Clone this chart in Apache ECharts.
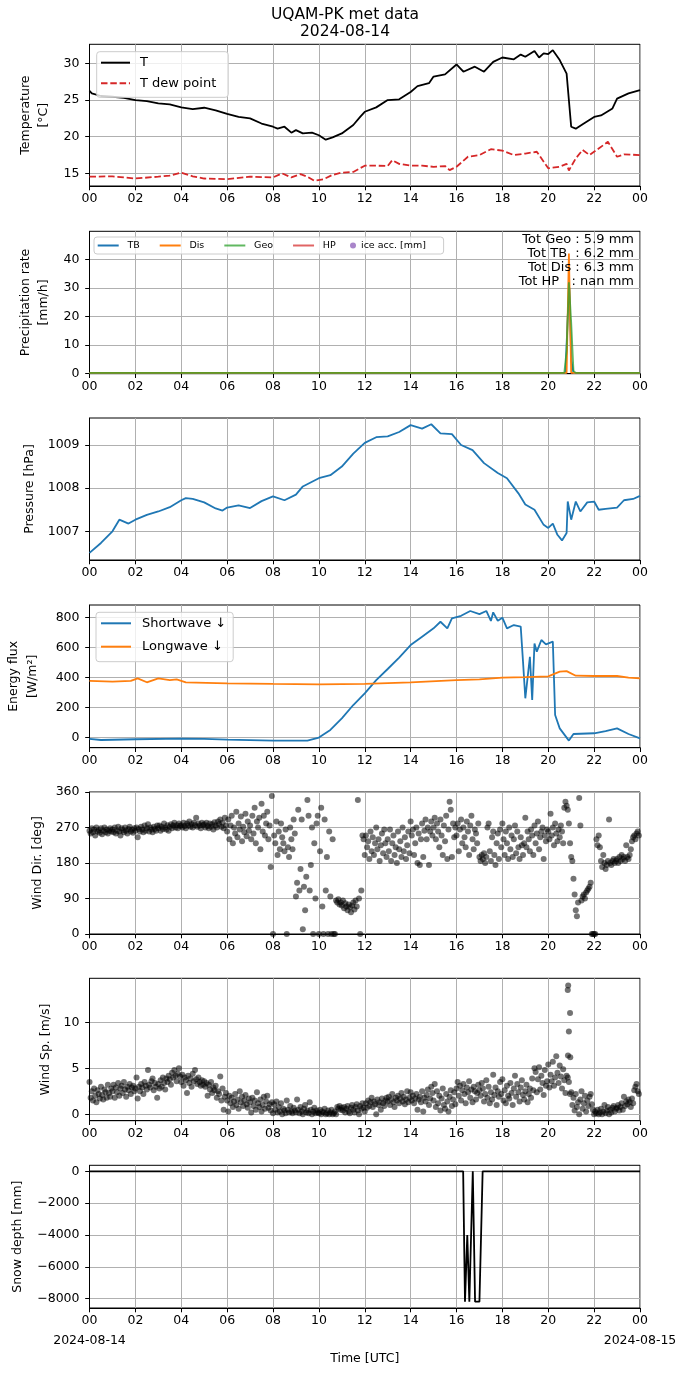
<!DOCTYPE html>
<html><head><meta charset="utf-8">
<script src="https://cdn.jsdelivr.net/npm/echarts@6.0.0/dist/echarts.min.js"></script>
<style>html,body{margin:0;padding:0;background:#fff}#c{width:690px;height:1377px}</style>
</head><body><div id="c"></div>
<script>
const FONT = 'DejaVu Sans';
const xTickLabels = ['00','02','04','06','08','10','12','14','16','18','20','22','00'];
const xDateLabels = [[0, '2024-08-14'], [24, '2024-08-15']];
const titleText = 'UQAM-PK met data\n2024-08-14';
const precipTotals = ['Tot Geo : 5.9 mm', 'Tot TB  : 6.2 mm', 'Tot Dis : 6.3 mm', 'Tot HP   : nan mm'];

// y tick values per panel
const tempTicks = [15, 20, 25, 30];
const precipTicks = [0, 10, 20, 30, 40];
const pressureTicks = [1007, 1008, 1009];
const energyTicks = [0, 200, 400, 600, 800];
const windDirTicks = [0, 90, 180, 270, 360];
const windSpTicks = [0, 5, 10];
const snowTicks = [-8000, -6000, -4000, -2000, 0];

// Temperature [°C] (hour, value)
const tempT = [[0,26.27],[0.1,25.9],[0.5,25.55],[1,25.45],[1.5,25.3],[2,25.0],[2.5,24.86],[3,24.55],[3.5,24.4],[4,24.0],[4.5,23.77],[5,23.95],[5.5,23.6],[6,23.1],[6.5,22.7],[7,22.5],[7.5,21.8],[8,21.36],[8.2,21.1],[8.5,21.36],[8.8,20.55],[9,20.9],[9.3,20.45],[9.7,20.55],[10,20.2],[10.3,19.6],[10.6,19.9],[11,20.45],[11.5,21.6],[11.8,22.7],[12,23.4],[12.5,24.0],[13,25.0],[13.5,25.1],[14,26.1],[14.3,26.9],[14.8,27.3],[15,28.2],[15.5,28.5],[16,29.85],[16.3,28.86],[16.8,29.55],[17.2,28.86],[17.6,30.2],[18,30.8],[18.5,30.55],[18.8,31.2],[19,30.9],[19.4,31.7],[19.6,30.8],[19.8,31.36],[20,31.27],[20.2,31.8],[20.5,30.45],[20.8,28.6],[21.0,21.36],[21.2,21.1],[21.5,21.7],[22,22.7],[22.3,22.9],[22.8,23.86],[23,25.2],[23.5,25.9],[24,26.36]];
const tempDew = [[0,14.55],[1,14.6],[2,14.3],[3,14.55],[3.5,14.7],[4,15.1],[4.5,14.6],[5,14.3],[6,14.2],[7,14.55],[8,14.45],[8.4,15.0],[8.8,14.45],[9.2,14.9],[9.5,14.55],[9.8,14.0],[10.2,14.2],[10.6,14.8],[11,15.1],[11.5,15.2],[12,16.05],[12.5,16.05],[13,16.0],[13.2,16.8],[13.5,16.3],[14,16.05],[14.5,16.05],[15,15.9],[15.5,16.0],[15.7,15.45],[16,15.9],[16.5,17.27],[17,17.5],[17.5,18.3],[18,18.1],[18.5,17.5],[19,17.7],[19.5,17.95],[20,15.7],[20.5,15.9],[20.8,16.3],[20.9,15.4],[21.2,17.05],[21.5,18.2],[21.8,17.5],[22.2,18.4],[22.6,19.3],[23,17.27],[23.3,17.6],[24,17.5]];

// Precipitation rate [mm/h]
const precipTB = [[0,0.2],[20.75,0.2],[20.85,20],[20.92,30],[21.0,5],[21.1,0.2],[24,0.2]];
const precipDis = [[0,0.3],[20.8,0.3],[20.9,42],[21.0,0.3],[24,0.3]];
const precipGeo = [[0,0.3],[20.7,0.3],[20.8,8],[20.9,32],[21.0,18],[21.1,1],[21.2,0.3],[24,0.3]];
const precipHP = [];
const iceAcc = [];

// Pressure [hPa]
const pressure = [[0,1006.5],[0.5,1006.73],[1,1007.0],[1.3,1007.27],[1.7,1007.18],[2,1007.27],[2.5,1007.38],[3,1007.46],[3.5,1007.56],[4,1007.72],[4.2,1007.77],[4.5,1007.75],[5,1007.67],[5.5,1007.53],[5.8,1007.48],[6,1007.55],[6.5,1007.6],[7,1007.54],[7.5,1007.7],[8,1007.81],[8.5,1007.72],[9,1007.85],[9.3,1008.04],[10,1008.23],[10.5,1008.3],[11,1008.5],[11.5,1008.8],[12,1009.05],[12.5,1009.18],[13,1009.2],[13.5,1009.3],[14,1009.46],[14.5,1009.38],[14.9,1009.48],[15.3,1009.27],[15.8,1009.25],[16.2,1009.0],[16.7,1008.88],[17.2,1008.58],[17.8,1008.35],[18.2,1008.23],[18.7,1007.88],[19,1007.62],[19.4,1007.5],[19.8,1007.15],[20.0,1007.08],[20.2,1007.18],[20.4,1006.92],[20.6,1006.79],[20.8,1006.96],[20.85,1007.69],[21.0,1007.27],[21.2,1007.69],[21.4,1007.46],[21.7,1007.67],[22,1007.69],[22.2,1007.5],[22.5,1007.52],[23,1007.55],[23.3,1007.72],[23.7,1007.75],[24,1007.82]];

// Energy flux [W/m2]
const shortwave = [[0,-11],[0.5,-18],[2,-13],[4,-9],[5,-11],[6,-16],[8,-22],[9.5,-22],[10,-2],[10.5,49],[11,127],[11.5,216],[12,294],[12.5,383],[13,457],[13.5,533],[14,617],[14.5,673],[15,729],[15.3,773],[15.6,729],[15.8,796],[16.2,813],[16.6,845],[17,824],[17.3,845],[17.5,778],[17.6,836],[17.8,780],[18,800],[18.2,729],[18.5,751],[18.8,740],[18.9,506],[19.0,261],[19.2,539],[19.3,250],[19.4,628],[19.5,573],[19.7,651],[19.9,622],[20.2,640],[20.3,149],[20.5,60],[20.9,-22],[21.1,22],[22,27],[22.5,42],[23,60],[23.5,22],[24,-7]];
const longwave = [[0,377],[1,372],[1.8,377],[2.1,394],[2.5,368],[3,394],[3.5,383],[3.8,388],[4.2,368],[6,361],[8,357],[10,354],[12,357],[14,368],[16,383],[17,388],[18,399],[19,403],[20,408],[20.5,439],[20.8,443],[21.2,412],[22,410],[23,410],[23.5,399],[24,394]];

// Wind direction [deg], 20 samples per hour, hours 00..23
const windDirHourly = [
[262,255,268,258,265,250,270,260,263,257,268,253,262,270,258,265,255,262,268,260],
[265,258,270,255,262,272,260,250,268,263,258,270,262,255,266,272,260,264,257,268],
[262,270,245,266,260,272,265,258,275,262,268,278,260,270,265,258,272,266,262,275],
[268,275,262,272,266,280,270,265,276,262,272,278,268,275,282,270,276,268,280,274],
[276,270,282,274,268,280,275,285,272,278,270,282,276,295,272,280,275,268,282,276],
[278,270,282,274,268,280,272,278,265,283,275,270,285,278,290,272,282,268,295,275],
[260,290,240,275,300,230,270,255,310,245,280,265,298,235,272,258,305,248,285,262],
[275,240,300,255,320,230,285,270,295,215,330,260,300,250,280,310,240,275,170,350],
[0,250,230,285,200,260,215,280,245,230,210,265,0,220,195,270,240,215,290,255],
[95,130,315,110,165,290,12,120,60,145,340,300,110,175,270,0,230,90,280,300],
[0,210,320,70,0,290,110,195,0,260,95,0,240,0,0,85,80,88,75,80],
[72,85,65,78,70,60,75,68,55,72,80,62,85,70,340,90,0,110,250,240],
[200,250,220,235,190,260,210,245,200,230,270,215,240,185,225,255,205,265,230,195],
[240,210,265,185,230,250,200,220,180,260,215,235,195,270,210,245,190,225,260,205],
[285,250,265,200,230,270,180,255,175,240,280,195,262,290,240,270,175,260,285,250],
[270,295,240,280,260,220,290,250,200,275,235,300,190,265,335,315,195,280,245,270],
[250,280,210,265,290,230,270,245,220,285,260,200,275,300,240,215,265,255,230,280],
[195,185,200,190,205,180,195,270,280,210,185,245,260,200,175,230,255,190,265,220],
[280,240,200,260,230,190,270,215,250,195,240,275,205,260,220,190,245,225,200,230],
[295,220,260,240,210,265,250,200,275,230,255,285,215,245,260,270,190,250,235,265],
[260,240,305,250,270,225,280,255,235,265,245,275,260,230,320,335,325,315,280,230],
[195,185,140,100,60,45,80,345,275,85,95,100,90,105,110,115,120,130,0,0],
[0,0,240,225,250,220,185,170,200,180,165,175,185,290,180,175,185,190,180,185],
[190,180,195,185,200,190,195,185,225,195,190,200,215,235,245,250,240,255,260,250]
];

// Wind speed [m/s], 20 samples per hour, hours 00..23
const windSpHourly = [
[3.5,1.8,2.5,1.5,2.8,2.0,1.3,2.6,2.2,1.7,3.0,2.1,1.6,2.7,2.4,1.8,3.2,2.3,1.9,2.8],
[2.5,3.2,1.8,2.9,2.4,3.4,2.0,2.8,3.1,2.3,3.5,2.7,1.9,3.0,2.6,3.3,2.2,2.9,3.1,2.5],
[2.8,4.0,1.7,3.0,2.5,3.3,2.9,2.2,3.5,3.1,2.7,4.8,3.2,2.9,3.6,3.9,2.6,3.4,3.0,1.8],
[3.3,2.8,3.7,3.0,4.0,3.4,2.7,3.9,3.5,4.2,3.8,3.2,4.5,4.0,4.8,4.2,3.6,4.4,5.0,4.1],
[3.5,4.3,3.1,4.0,3.7,2.3,4.2,3.4,3.9,3.0,4.4,3.6,4.8,3.8,3.3,4.0,3.5,3.1,3.7,3.2],
[3.6,3.0,3.4,2.0,3.2,2.7,3.5,2.3,2.9,2.6,3.1,1.8,2.5,2.2,4.1,1.5,2.8,0.5,1.9,2.3],
[1.5,0.3,2.0,1.2,1.8,0.8,1.4,2.2,1.0,1.6,0.6,2.5,1.3,1.9,0.9,1.5,2.1,1.1,0.7,1.7],
[1.3,0.2,1.8,0.9,1.5,0.5,2.4,1.2,0.8,1.6,0.3,1.0,1.9,0.6,1.4,2.0,0.7,1.1,0.4,1.3],
[0.1,1.1,0.5,1.4,0.2,0.8,0.3,1.2,0.0,0.6,0.4,0.1,1.5,0.5,0.2,0.9,0.3,0.1,0.7,0.4],
[0.2,1.6,0.5,0.1,0.8,0.3,0.0,0.6,1.0,0.2,0.4,0.1,1.3,0.5,0.0,0.3,0.7,0.1,0.4,0.2],
[0.1,0.5,0.0,0.3,0.2,0.6,0.0,0.1,0.4,0.0,0.2,0.5,0.0,0.1,0.3,0.0,0.8,0.6,0.9,0.5],
[0.7,0.4,0.8,0.2,0.6,0.9,0.3,0.1,0.7,1.0,0.5,0.2,0.8,1.1,0.4,0.0,0.9,0.6,1.2,0.7],
[0.3,1.2,0.7,1.5,0.9,1.3,1.8,0.8,1.4,1.1,0.0,1.6,1.0,1.3,0.5,1.7,1.2,0.9,1.5,1.8],
[1.4,1.9,1.0,1.6,2.2,1.3,0.8,1.8,1.5,2.0,1.2,1.7,2.3,1.4,1.9,1.1,1.6,2.5,1.3,1.8],
[2.4,1.5,2.0,1.2,1.7,2.2,0.5,1.6,1.9,1.3,2.5,0.3,1.8,1.4,2.1,2.7,1.0,1.7,3.0,2.3],
[1.5,3.3,0.8,2.5,1.2,2.0,0.4,1.7,2.8,1.0,0.6,2.2,1.4,0.3,1.9,2.6,0.9,1.6,2.4,1.1],
[2.8,3.5,2.0,3.1,1.5,2.6,3.3,2.2,1.2,2.9,2.4,3.6,1.8,2.7,1.3,3.0,2.5,1.6,2.3,3.2],
[2.6,2.0,3.4,2.8,1.4,2.2,3.7,1.8,3.0,1.2,2.4,1.6,4.3,2.1,2.9,1.0,2.5,1.9,3.5,2.2],
[3.8,1.5,2.6,1.2,3.1,2.0,1.7,3.4,2.3,1.0,2.8,4.2,1.9,3.3,2.4,1.4,2.9,3.7,2.1,1.6],
[2.5,3.2,1.3,2.2,2.8,1.8,3.9,2.6,5.0,4.6,2.4,3.8,5.1,2.7,4.2,3.4,2.1,4.8,3.1,3.6],
[5.4,2.9,4.3,3.6,5.7,3.1,4.0,6.3,4.5,3.4,5.3,4.1,2.8,4.9,3.7,2.3,4.2,4.0,3.5,2.2],
[2.4,1.0,1.8,0.4,2.2,0.8,1.3,0.0,1.6,2.5,0.6,1.2,2.0,0.3,1.5,0.9,1.9,2.2,1.1,0.5],
[0.0,0.3,0.1,0.5,0.0,0.2,0.6,0.0,0.3,1.0,0.1,0.4,0.8,0.0,0.5,0.2,0.7,0.9,0.3,0.6],
[0.7,1.0,0.4,0.8,1.2,0.5,1.9,0.9,1.4,1.1,1.6,1.3,0.8,1.7,1.2,2.6,3.0,3.3,2.5,2.2]
];
const windSpOutliers = [[20.87,14.0],[20.85,13.5],[20.95,11.0],[20.9,9.0],[20.86,6.4],[20.96,6.2]];

// Snow depth [mm]
const snowDepth = [[0,0],[16.29,0],[16.37,-8190],[16.47,-4000],[16.56,-8190],[16.71,0],[16.81,-8190],[17.0,-8190],[17.14,0],[24,0]];

// ---------- build ----------
function expandHourly(rows) {
  const pts = [];
  rows.forEach((vals, h) => vals.forEach((v, i) => pts.push([h + i / vals.length, v])));
  return pts;
}
const windDirPts = expandHourly(windDirHourly);
const windSpPts = expandHourly(windSpHourly).concat(windSpOutliers);

const gridTops = [44.3, 231.3, 418, 605, 792, 978.3, 1165.3];
const gridHeights = [141.7, 142.4, 142, 142.7, 142, 142.4, 142.7];
const grids = gridTops.map((t, i) => ({left: 89.5, right: 50, top: t, height: gridHeights[i], show: true,
  borderColor: '#000', borderWidth: 1, backgroundColor: 'transparent', containLabel: false, outerBoundsMode: 'none'}));

const minus = v => String(v).replace('-', '\u2212');
const axisLine = {show: true, onZero: false, lineStyle: {color: '#000', width: 1}};
const tickStyle = {color: '#000', width: 1};
const splitLine = {show: true, lineStyle: {color: '#b0b0b0', width: 1}};
const labelBase = {color: '#000', fontFamily: FONT, fontSize: 12.5};

const xAxes = gridTops.map((t, i) => {
  const ax = {
    type: 'value', gridIndex: i, min: 0, max: 24, interval: 2,
    axisLine, axisTick: {show: true, length: 4.3, lineStyle: tickStyle}, splitLine,
    axisLabel: Object.assign({}, labelBase, {margin: 6, lineHeight: 14, showMinLabel: true, showMaxLabel: true,
      formatter: v => xTickLabels[Math.round(v / 2)]})
  };
  if (i === 6) {
    ax.name = 'Time [UTC]'; ax.nameLocation = 'middle'; ax.nameGap = 44;
    ax.nameTextStyle = {color: '#000', fontFamily: FONT, fontSize: 12.5};
  }
  return ax;
});

const yDefs = [
  {name: 'Temperature\n[°C]', min: 13.28, max: 32.6, ticks: tempTicks, gap: 25.6, lh: 18},
  {name: 'Precipitation rate\n[mm/h]', min: 0, max: 49.8, ticks: precipTicks, gap: 26, lh: 18},
  {name: 'Pressure [hPa]', min: 1006.336, max: 1009.625, ticks: pressureTicks, gap: 53, lh: 14},
  {name: 'Energy flux\n[W/m²]', min: -69.5, max: 885, ticks: energyTicks, gap: 47, lh: 19},
  {name: 'Wind Dir. [deg]', min: 0, max: 360, ticks: windDirTicks, gap: 43, lh: 14},
  {name: 'Wind Sp. [m/s]', min: -0.7, max: 14.78, ticks: windSpTicks, gap: 34, lh: 14},
  {name: 'Snow depth [mm]', min: -8585, max: 377, ticks: snowTicks, gap: 65, lh: 14}
];
const yAxes = yDefs.map((d, i) => {
  const step = d.ticks[1] - d.ticks[0];
  return {
    type: 'value', gridIndex: i, min: d.min, max: d.max, minInterval: step, maxInterval: step,
    name: d.name, nameLocation: 'middle', nameGap: d.gap, nameRotate: 90,
    nameTextStyle: {color: '#000', fontFamily: FONT, fontSize: 12.5, lineHeight: d.lh},
    axisLine,
    axisTick: {show: true, length: 4.3, lineStyle: tickStyle, customValues: d.ticks},
    splitLine,
    axisLabel: Object.assign({}, labelBase, {margin: 10, customValues: d.ticks,
      formatter: v => (d.ticks.some(t => Math.abs(t - v) < 1e-6) ? minus(v) : '')})
  };
});

const lineS = (name, data, idx, color, extra) => Object.assign({
  type: 'line', name, data, xAxisIndex: idx, yAxisIndex: idx, symbol: 'none', showSymbol: false,
  lineStyle: {color, width: 1.8}, itemStyle: {color}, animation: false
}, extra || {});

const series = [
  lineS('T', tempT, 0, '#000000'),
  lineS('T dew point', tempDew, 0, '#d62728', {lineStyle: {color: '#d62728', width: 1.8, type: [6.5, 2.8]}}),
  lineS('TB', precipTB, 1, '#1f77b4'),
  lineS('Dis', precipDis, 1, '#ff7f0e'),
  lineS('Geo', precipGeo, 1, '#5cb85c', {lineStyle: {color: '#2ca02c', width: 1.8, opacity: 0.75}}),
  lineS('HP', precipHP, 1, '#e06464'),
  {type: 'scatter', name: 'ice acc. [mm]', data: iceAcc, xAxisIndex: 1, yAxisIndex: 1, symbolSize: 5, itemStyle: {color: '#9467bd'}, animation: false},
  lineS('', pressure, 2, '#1f77b4'),
  lineS('Shortwave ↓', shortwave, 3, '#1f77b4'),
  lineS('Longwave ↓', longwave, 3, '#ff7f0e'),
  {type: 'scatter', data: windDirPts, xAxisIndex: 4, yAxisIndex: 4, symbolSize: 6, itemStyle: {color: '#000', opacity: 0.55}, animation: false, silent: true},
  {type: 'scatter', data: windSpPts, xAxisIndex: 5, yAxisIndex: 5, symbolSize: 6, itemStyle: {color: '#000', opacity: 0.55}, animation: false, silent: true},
  lineS('', snowDepth, 6, '#000000')
];

const legendBox = {backgroundColor: 'rgba(255,255,255,0.8)', borderColor: '#cccccc', borderWidth: 1, borderRadius: 3};
const noSym = {opacity: 0};
const legends = [
  Object.assign({data: ['T', 'T dew point'], orient: 'vertical', left: 96.7, top: 51.7, padding: [4, 12, 7, 3.3],
    itemWidth: 29, itemHeight: 14, itemGap: 6.6, selectedMode: false, itemStyle: noSym,
    textStyle: {color: '#000', fontFamily: FONT, fontSize: 13, lineHeight: 14, padding: [0, 0, 0, 5]}}, legendBox),
  Object.assign({data: ['TB', 'Dis', 'Geo', 'HP'], orient: 'horizontal', left: 94, top: 237, padding: [3.5, 108, 3.5, 2.7],
    itemWidth: 21, itemHeight: 9, itemGap: 19, selectedMode: false, itemStyle: noSym,
    textStyle: {color: '#000', fontFamily: FONT, fontSize: 9.5, lineHeight: 10, padding: [0, 0, 0, 3.7]}}, legendBox),
  {data: ['ice acc. [mm]'], orient: 'horizontal', left: 350, top: 237, padding: [3.5, 0, 3.5, 0],
    itemWidth: 6, itemHeight: 6, selectedMode: false, z: 5,
    textStyle: {color: '#000', fontFamily: FONT, fontSize: 9.5, lineHeight: 10, padding: [0, 0, 0, 0]}},
  Object.assign({data: ['Shortwave ↓', 'Longwave ↓'], orient: 'vertical', left: 96, top: 612.3, padding: [4, 7, 8, 4],
    itemWidth: 30, itemHeight: 14, itemGap: 9.4, selectedMode: false, itemStyle: noSym,
    textStyle: {color: '#000', fontFamily: FONT, fontSize: 13, lineHeight: 14, padding: [0, 0, 0, 6]}}, legendBox)
];

const chart = echarts.init(document.getElementById('c'), null, {renderer: 'canvas'});
chart.setOption({
  animation: false,
  backgroundColor: '#fff',
  title: {text: titleText, left: 'center', top: 7, padding: 0,
    textStyle: {color: '#000', fontFamily: FONT, fontSize: 15.5, fontWeight: 'normal', lineHeight: 16.5}},
  grid: grids, xAxis: xAxes, yAxis: yAxes, legend: legends, series,
  graphic: [{id: 'tot', type: 'text', right: 56, top: 232.2, z: 100,
    style: {text: precipTotals.join('\n'), font: '13px "DejaVu Sans"', textAlign: 'right', lineHeight: 14.1, fill: '#000'}}]
});

// date line under the first/last tick of the bottom panel, placed through the axis scales
const extraText = xDateLabels.map(([h, txt], k) => {
  const p = chart.convertToPixel({xAxisIndex: 6, yAxisIndex: 6}, [h, yDefs[6].min]);
  return {id: 'date' + k, type: 'text', x: p[0], y: p[1] + 26.5, z: 100, silent: true,
    style: {text: txt, font: '12.5px "DejaVu Sans"', textAlign: 'center', textVerticalAlign: 'top', fill: '#000'}};
});
chart.setOption({graphic: extraText});
</script></body></html>
